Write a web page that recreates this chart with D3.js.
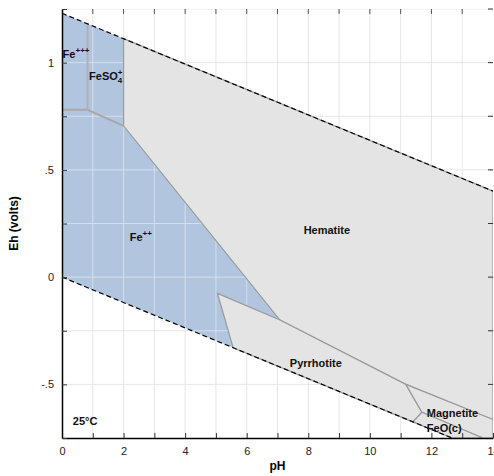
<!DOCTYPE html>
<html>
<head>
<meta charset="utf-8">
<script src="https://cdn.jsdelivr.net/npm/d3@7"></script>
<style>
  body { margin: 0; background: #fff; }
  svg { font-family: "Liberation Sans", Arial, sans-serif; }
</style>
</head>
<body>
<div id="chart"></div>
<script>
/* DATA */
const xTicks = [0, 2, 4, 6, 8, 10, 12, 14];
const yTicks = [-0.5, 0, 0.5, 1];
const yTickLabels = ["-.5", "0", ".5", "1"];

// water stability limits (pH, Eh)
const upperWater = [[0, 1.23], [14, 0.401]];
const lowerWater = [[0, 0], [12.67, -0.75]];

// stability fields
const blueField = [[0, 0], [0, 1.23], [2.0, 1.112], [2.0, 0.705], [7.08, -0.2], [5.05, -0.076], [5.56, -0.329]];
const hematite = [[2.0, 1.112], [14, 0.401], [14, -0.664], [11.17, -0.5], [7.08, -0.2], [2.0, 0.705]];
const pyrrhotite = [[5.05, -0.076], [7.08, -0.2], [11.17, -0.5], [11.69, -0.63], [11.4, -0.675], [5.56, -0.329]];
const magnetite = [[11.17, -0.5], [14, -0.664], [14, -0.75], [13.67, -0.75], [11.69, -0.63]];
const feo = [[11.69, -0.63], [13.67, -0.75], [12.67, -0.75], [11.4, -0.675]];

// boundaries inside the aqueous field
const fe3Bottom = [[0, 0.78], [0.83, 0.78], [2.0, 0.705]];
const fe3Side = [[0.83, 0.78], [0.83, 1.181]];

// parts: [text, 0 normal / 1 superscript / -1 subscript, stacked over previous]
const labels = [
  { x: 0.02, y: 1.02, parts: [["Fe", 0], ["+++", 1]] },
  { x: 0.88, y: 0.92, parts: [["FeSO", 0], ["4", -1], ["+", 1, true]] },
  { x: 2.2, y: 0.17, parts: [["Fe", 0], ["++", 1]] },
  { x: 7.85, y: 0.2, parts: [["Hematite", 0]] },
  { x: 7.4, y: -0.42, parts: [["Pyrrhotite", 0]] },
  { x: 11.85, y: -0.65, parts: [["Magnetite", 0]] },
  { x: 11.85, y: -0.72, parts: [["FeO(c)", 0]] },
  { x: 0.35, y: -0.69, parts: [["25°C", 0]] }
];

/* LAYOUT */
const width = 494, height = 476;
const margin = { top: 9, right: 1, bottom: 38, left: 62 };

const x = d3.scaleLinear().domain([0, 14]).range([margin.left, width - margin.right]);
const y = d3.scaleLinear().domain([-0.75, 1.25]).range([height - margin.bottom, margin.top]);

const svg = d3.select("#chart").append("svg")
  .attr("width", width)
  .attr("height", height);

const line = d3.line().x(d => x(d[0])).y(d => y(d[1]));
const poly = pts => line(pts) + "Z";

svg.append("clipPath").attr("id", "plot")
  .append("rect")
  .attr("x", x(0)).attr("y", y(1.25))
  .attr("width", x(14) - x(0)).attr("height", y(-0.75) - y(1.25));

svg.append("clipPath").attr("id", "blue")
  .append("path").attr("d", poly(blueField));

const plot = svg.append("g").attr("clip-path", "url(#plot)");

// grid
const gx = d3.range(1, 14);
const gy = d3.range(-0.5, 1.26, 0.25);
function grid(g, color) {
  g.selectAll(".gv").data(gx).join("line")
    .attr("x1", d => x(d)).attr("x2", d => x(d))
    .attr("y1", y(-0.75)).attr("y2", y(1.25))
    .attr("stroke", color);
  g.selectAll(".gh").data(gy).join("line")
    .attr("y1", d => y(d)).attr("y2", d => y(d))
    .attr("x1", x(0)).attr("x2", x(14))
    .attr("stroke", color);
}
plot.append("g").call(grid, "#e6e6e6");

// fields
plot.append("path").attr("d", poly(blueField)).attr("fill", "#b2c5df");
plot.append("g").attr("clip-path", "url(#blue)").call(grid, "#d4deec");

[hematite, pyrrhotite, magnetite, feo].forEach(f => {
  plot.append("path").attr("d", poly(f))
    .attr("fill", "#e4e4e4")
    .attr("stroke", "#9a9a9a")
    .attr("stroke-width", 1.2);
});

plot.append("path").attr("d", line(fe3Bottom))
  .attr("fill", "none").attr("stroke", "#a8a8a8").attr("stroke-width", 2);
plot.append("path").attr("d", line(fe3Side))
  .attr("fill", "none").attr("stroke", "#b0b0b0").attr("stroke-width", 2);

// water lines
[upperWater, lowerWater].forEach(w => {
  plot.append("path").attr("d", line(w))
    .attr("fill", "none").attr("stroke", "#000")
    .attr("stroke-width", 1.2).attr("stroke-dasharray", "5,3");
});

// axes
const xAxis = d3.axisBottom(x).tickValues(d3.range(0, 15)).tickSizeInner(-5).tickSizeOuter(0)
  .tickFormat(d => xTicks.includes(d) ? d : "");
const yAxis = d3.axisLeft(y).tickValues(d3.range(-0.75, 1.26, 0.25)).tickSizeInner(-5).tickSizeOuter(0)
  .tickFormat(d => { const i = yTicks.findIndex(t => Math.abs(t - d) < 1e-6); return i < 0 ? "" : yTickLabels[i]; });

const gxA = svg.append("g").attr("transform", `translate(0,${y(-0.75)})`).call(xAxis);
const gyA = svg.append("g").attr("transform", `translate(${x(0)},0)`).call(yAxis);
[gxA, gyA].forEach(g => {
  g.select(".domain").attr("stroke", "#000").attr("stroke-width", 1.5);
  g.selectAll(".tick line").attr("stroke", "#333");
  g.selectAll("text").attr("font-size", 11).attr("fill", "#222")
    .attr("font-family", "Liberation Sans, Arial, sans-serif");
});
gxA.selectAll("text").attr("dy", "1.3em");
gyA.selectAll("text").attr("x", -8);

// top and right ticks
svg.append("g").selectAll("line").data(d3.range(1, 14)).join("line")
  .attr("x1", d => x(d)).attr("x2", d => x(d))
  .attr("y1", y(1.25)).attr("y2", y(1.25) + 5)
  .attr("stroke", "#555");
svg.append("g").selectAll("line").data(d3.range(-0.5, 1.26, 0.25)).join("line")
  .attr("x1", x(14)).attr("x2", x(14) - 5)
  .attr("y1", d => y(d)).attr("y2", d => y(d))
  .attr("stroke", "#333");

// axis titles
svg.append("text")
  .attr("x", (x(0) + x(14)) / 2).attr("y", 470)
  .attr("text-anchor", "middle").attr("font-size", 12).attr("font-weight", "bold")
  .text("pH");
svg.append("text")
  .attr("transform", `translate(18,${(y(-0.75) + y(1.25)) / 2}) rotate(-90)`)
  .attr("text-anchor", "middle").attr("font-size", 12).attr("font-weight", "bold")
  .text("Eh (volts)");

// field labels
labels.forEach(l => {
  const t = svg.append("text")
    .attr("x", x(l.x)).attr("y", y(l.y))
    .attr("font-size", 11).attr("font-weight", "bold").attr("fill", "#111");
  let prev = null;
  l.parts.forEach(p => {
    const s = t.append("tspan").text(p[0]);
    if (p[1] === 1) s.attr("font-size", 8).attr("dy", -5);
    if (p[1] === -1) s.attr("font-size", 8).attr("dy", 3);
    if (p[2] && prev) {
      // stack above the previous sub-script
      s.attr("dx", -prev.node().getComputedTextLength()).attr("dy", -8);
    }
    prev = s;
  });
});
</script>
</body>
</html>
